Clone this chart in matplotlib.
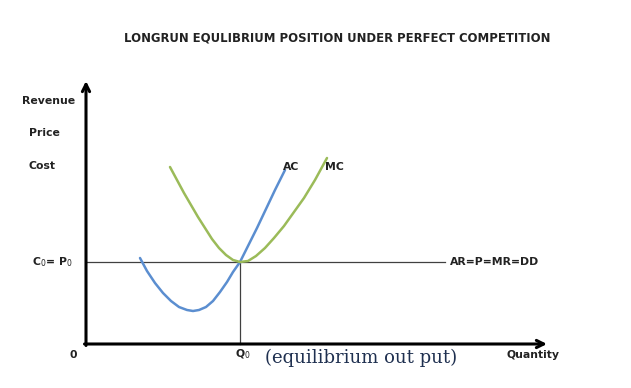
"""Long-run equilibrium under perfect competition (AC / MC diagram)."""

import matplotlib

matplotlib.use("Agg")

import matplotlib.pyplot as plt

# curve readings (quantity, cost) in chart units, origin at axes corner
ac_q = [54, 61, 69, 77, 85, 93, 101, 107, 113, 120, 127, 134, 141, 147,
        154, 162, 171, 180, 189, 199]
ac_c = [86, 73, 61, 51, 43, 37, 34, 33, 34, 37, 43, 52, 62, 72,
        82, 98, 116, 135, 154, 174]
mc_q = [84, 91, 98, 105, 112, 119, 126, 133, 140, 147, 154, 162, 170, 179,
        188, 198, 208, 218, 229, 241]
mc_c = [177, 164, 151, 139, 127, 116, 105, 96, 89, 84, 82, 83, 88, 96,
        106, 118, 132, 146, 164, 186]

eq_q = 154
eq_p = 82
dd_end = 359

y_labels = ["Revenue", "Price", "Cost"]
y_label_x = [-64, -57, -58]
y_label_y = [243, 211, 178]

fig = plt.figure(figsize=(6.31, 3.88), dpi=100)
ax = fig.add_axes([0, 0, 1, 1])
ax.set_xlim(-86, 631 - 86)
ax.set_ylim(344 - 388, 344)
ax.axis("off")

# axes with arrows
ax.annotate("", xy=(0, 263), xytext=(0, -1.5),
            arrowprops=dict(arrowstyle="->", lw=2.2, color="black",
                            mutation_scale=13, shrinkA=0, shrinkB=0))
ax.annotate("", xy=(461, 0), xytext=(-1.5, 0),
            arrowprops=dict(arrowstyle="->", lw=2.2, color="black",
                            mutation_scale=13, shrinkA=0, shrinkB=0))

# price line and equilibrium drop line
ax.plot([0, dd_end], [eq_p, eq_p], color="#404040", lw=0.9)
ax.plot([eq_q, eq_q], [0, eq_p], color="#404040", lw=0.9)

ax.plot(ac_q, ac_c, color="#5b8ed0", lw=1.8, solid_capstyle="round",
        solid_joinstyle="round")
ax.plot(mc_q, mc_c, color="#9bbb59", lw=1.8, solid_capstyle="round",
        solid_joinstyle="round")

bold = dict(fontsize=7.8, fontweight="bold", color="#222222")
ax.text(251.5, 306, "LONGRUN EQULIBRIUM POSITION UNDER PERFECT COMPETITION",
        ha="center", va="center", fontsize=8.4, fontweight="bold",
        color="#222222")
for lab, x, y in zip(y_labels, y_label_x, y_label_y):
    ax.text(x, y, lab, ha="left", va="center", **bold)
ax.text(-54, eq_p, "C$_0$= P$_0$", ha="left", va="center", **bold)
ax.text(-13, -11, "0", ha="center", va="center", **bold)
ax.text(157, -10, "Q$_0$", ha="center", va="center", **bold)
ax.text(179, -14, "(equilibrium out put)", ha="left", va="center",
        fontsize=13, family="DejaVu Serif", color="#1f3050")
ax.text(447, -11, "Quantity", ha="center", va="center", **bold)
ax.text(197, 177, "AC", ha="left", va="center", **bold)
ax.text(239, 177, "MC", ha="left", va="center", **bold)
ax.text(364, eq_p, "AR=P=MR=DD", ha="left", va="center", **bold)

fig.savefig("out.png", dpi=100)
